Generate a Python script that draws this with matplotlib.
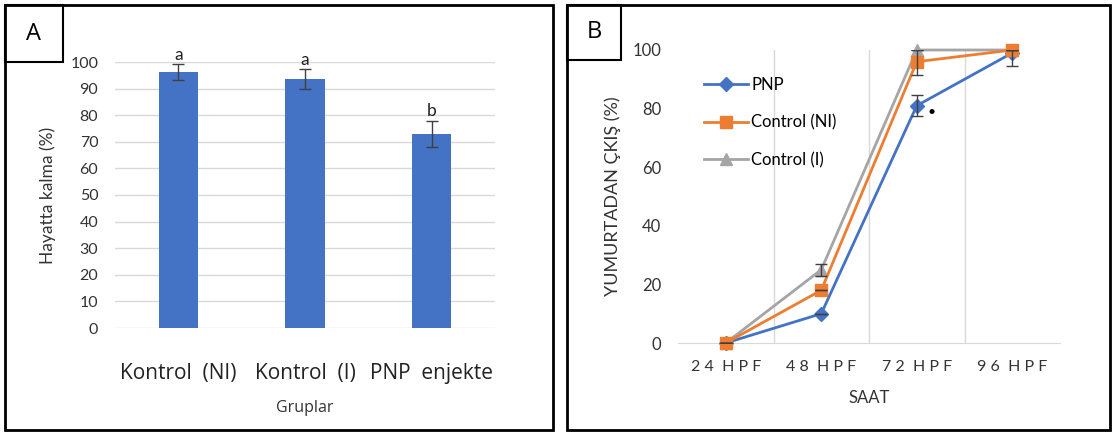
import matplotlib
matplotlib.use("Agg")
import matplotlib.pyplot as plt
from matplotlib.patches import Rectangle
import numpy as np

# ---- Data panel A ----
groups = ["Kontrol  (NI)", "Kontrol  (I)", "PNP  enjekte"]
survival = [96.1, 93.6, 72.9]
survival_err = [3.0, 3.7, 5.0]
letters = ["a", "a", "b"]
a_yticks = list(range(0, 101, 10))

# ---- Data panel B ----
hours = ["2 4  H P F", "4 8  H P F", "7 2  H P F", "9 6  H P F"]
pnp = [0, 10, 81, 99]
pnp_err = [0, 0, 3.5, 4.5]
ctrl_ni = [0, 18, 96, 100]
ctrl_ni_err = [0, 0, 4.5, 0]
ctrl_i = [0, 25, 100, 100]
ctrl_i_err = [0, 2, 0, 0]
b_yticks = list(range(0, 101, 20))

W, H = 1115, 434
fig = plt.figure(figsize=(W/100, H/100), dpi=100)
plt.rcParams['font.family'] = ['Lato', 'DejaVu Sans']

def fx(x): return x / W
def fy(y): return 1 - y / H

# frames
for (x0, y0, x1, y1) in [(5, 5, 553, 430), (567, 5, 1110, 430)]:
    fig.patches.append(Rectangle((fx(x0), fy(y1)), fx(x1 - x0), (y1 - y0) / H,
                                 transform=fig.transFigure, fill=False,
                                 edgecolor='black', linewidth=2))
for (x0, y0, x1, y1, lab) in [(5, 5, 63, 62, "A"), (567, 5, 621, 60, "B")]:
    fig.patches.append(Rectangle((fx(x0), fy(y1)), fx(x1 - x0), (y1 - y0) / H,
                                 transform=fig.transFigure, fill=False,
                                 edgecolor='black', linewidth=1.5))
    fig.text(fx((x0 + x1) / 2), fy((y0 + y1) / 2), lab, ha='center', va='center',
             fontsize=17, family=['Open Sans', 'DejaVu Sans'])

# ---- Panel A ----
axA = fig.add_axes([fx(115), fy(328), fx(380), 266 / H])
xA = np.arange(len(groups))
axA.bar(xA, survival, width=0.31, color='#4472C4', zorder=3)
axA.errorbar(xA, survival, yerr=survival_err, fmt='none', ecolor='#404040',
             elinewidth=1, capsize=4, capthick=1, zorder=4, clip_on=False)
for xi, v, e, l in zip(xA, survival, survival_err, letters):
    axA.text(xi, v + e + 3.5, l, ha='center', va='center', fontsize=12.5, color='#222222')
axA.set_xlim(-0.5, 2.5)
axA.set_ylim(0, 100)
axA.set_yticks(a_yticks)
axA.yaxis.grid(True, color='#D9D9D9', linewidth=1, zorder=0)
axA.set_axisbelow(True)
for s in axA.spines.values():
    s.set_visible(False)
axA.tick_params(axis='both', length=0)
axA.tick_params(axis='y', labelsize=11.5, labelcolor='#333333', pad=12)
axA.set_xticks(xA)
axA.set_xticklabels(groups, fontsize=15, family=['Open Sans', 'DejaVu Sans'], color='#222222')
axA.tick_params(axis='x', pad=25)
axA.set_xlabel("Gruplar", fontsize=11.5, color='#333333', labelpad=12,
               family=['Open Sans', 'DejaVu Sans'])
axA.set_ylabel("Hayatta kalma (%)", fontsize=12.5, color='#333333', labelpad=10)

# ---- Panel B ----
axB = fig.add_axes([fx(678), fy(343), fx(382), 293 / H])
xB = np.arange(len(hours))
series = [("PNP", pnp, pnp_err, '#4472C4', 'D', 7, 3),
          ("Control (NI)", ctrl_ni, ctrl_ni_err, '#ED7D31', 's', 8, 3.2),
          ("Control (I)", ctrl_i, ctrl_i_err, '#A5A5A5', '^', 8, 3.1)]
for name, vals, err, col, mk, ms, z in series:
    axB.plot(xB, vals, color=col, marker=mk, markersize=ms, linewidth=2,
             label=name, zorder=z, clip_on=False)
    axB.errorbar(xB, vals, yerr=err, fmt='none', ecolor='#404040', elinewidth=1,
                 capsize=4, capthick=1, zorder=4, clip_on=True)
axB.text(xB[2] + 0.15, pnp[2] - 2, "•", ha='center', va='center', fontsize=10, color='black')
axB.set_xlim(-0.5, 3.5)
axB.set_ylim(0, 100)
axB.set_yticks(b_yticks)
axB.set_xticks(xB)
axB.set_xticklabels(hours, fontsize=11.5, color='#333333')
for b in [0.5, 1.5, 2.5]:
    axB.axvline(b, color='#D9D9D9', linewidth=1, zorder=0)
for k, s in axB.spines.items():
    s.set_visible(k == 'bottom')
axB.spines['bottom'].set_color('#D9D9D9')
axB.tick_params(axis='both', length=0)
axB.tick_params(axis='y', labelsize=12, labelcolor='#333333', pad=12)
axB.tick_params(axis='x', pad=12)
axB.set_xlabel("SAAT", fontsize=12, color='#333333', labelpad=12)
axB.set_ylabel("YUMURTADAN ÇKIŞ (%)", fontsize=13, color='#333333', labelpad=8)
axB.legend(loc='upper left', bbox_to_anchor=(0.03, 0.96), frameon=False,
           fontsize=12, labelspacing=1.3, handlelength=2.6, handletextpad=0.2)

fig.savefig("out.png", dpi=100)
